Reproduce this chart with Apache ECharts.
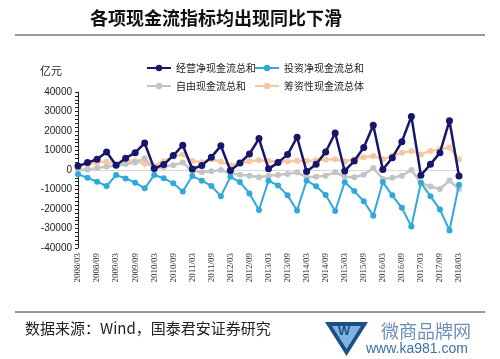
<!DOCTYPE html>
<html><head><meta charset="utf-8">
<script src="https://cdn.jsdelivr.net/npm/echarts@6/dist/echarts.min.js"></script>
<style>html,body{margin:0;padding:0;background:#fff}#c{width:500px;height:359px}</style>
</head><body><div id="c"></div>
<script>
var categories = ["2008/03","2008/06","2008/09","2008/12","2009/03","2009/06","2009/09","2009/12","2010/03","2010/06","2010/09","2010/12","2011/03","2011/06","2011/09","2011/12","2012/03","2012/06","2012/09","2012/12","2013/03","2013/06","2013/09","2013/12","2014/03","2014/06","2014/09","2014/12","2015/03","2015/06","2015/09","2015/12","2016/03","2016/06","2016/09","2016/12","2017/03","2017/06","2017/09","2017/12","2018/03"];
var seriesNames = ["经营净现金流总和","投资净现金流总和","自由现金流总和","筹资性现金流总体"];
var operating = [2000,3800,5500,9200,2400,6000,8900,13800,800,2800,7400,12700,500,2300,6600,12400,-300,3600,8200,16100,600,3800,7900,16800,-800,2900,9200,19000,-500,4600,11500,23000,300,6300,14500,27500,-2700,2900,8900,25300,-3100];
var investing = [-2200,-4000,-6000,-8200,-2600,-4300,-6500,-9400,-2600,-4200,-6800,-11000,-3100,-5500,-8200,-13400,-3500,-6200,-12000,-20500,-5500,-8000,-13000,-20800,-5500,-8300,-12800,-21000,-6300,-10800,-16000,-23500,-6200,-13000,-19400,-29000,-6500,-13400,-20300,-31000,-7500];
var freeCash = [0,200,1000,1800,2200,3100,3900,6000,300,1600,2400,3800,-400,-1200,-700,0,-1700,-2400,-2900,-3700,-2900,-2500,-2000,-1200,-3700,-3400,-2900,-1200,-3400,-3700,-2400,1000,-4600,-4000,-2900,0,-6500,-8500,-9800,-5400,-9800];
var financing = [2200,3000,3800,4300,3000,5000,4600,3200,2200,4500,7000,8000,4600,4000,5500,4200,2500,3500,4500,5000,4600,4300,4300,4800,4600,5000,5300,5500,4500,5500,6500,7200,5500,7200,8900,9800,8000,9800,10700,11500,5500];

var colors = ['#16166b','#2fa9d9','#c4c4c4','#f6c8a2'];
var chart = echarts.init(document.getElementById('c'));
var cjk = '"Noto Sans CJK SC", sans-serif';
function mk(i, data, w, sz) {
  return {name: seriesNames[i], type:'line', data:data, symbol:'circle', symbolSize:sz, showAllSymbol:true,
    lineStyle:{width:w,color:colors[i]}, itemStyle:{color:colors[i]}, z: 10-i};
}
var s = [mk(2,freeCash,2.5,6), mk(3,financing,2.5,6), mk(1,investing,2,6), mk(0,operating,2.5,7)];
s[0].markLine = {silent:true, symbol:'none', label:{show:false}, lineStyle:{color:'#d8d8d8',width:1,type:'solid'}, data:[{yAxis:0}]};
chart.setOption({
  animation:false,
  textStyle:{fontFamily:cjk},
  grid:{left:78,right:41,top:92,bottom:111},
  legend:[
    {data:[seriesNames[0],seriesNames[2]], orient:'vertical', left:141, top:58, itemWidth:24, itemHeight:8, itemGap:8, textStyle:{fontSize:10,color:'#222',fontFamily:cjk}},
    {data:[seriesNames[1],seriesNames[3]], orient:'vertical', left:249, top:58, itemWidth:24, itemHeight:8, itemGap:8, textStyle:{fontSize:10,color:'#222',fontFamily:cjk}}
  ],
  xAxis:{type:'category', data:categories, boundaryGap:false,
    axisLine:{show:false}, axisTick:{show:false},
    axisLabel:{interval:1, rotate:90, fontSize:9, color:'#333', fontFamily:'"Liberation Serif", serif', margin:5}},
  yAxis:{type:'value', min:-40000, max:40000, interval:10000,
    axisLine:{show:true, lineStyle:{color:'#222',width:1}},
    axisTick:{show:true, length:3, lineStyle:{color:'#222'}},
    minorTick:{show:true, splitNumber:5, length:3, lineStyle:{color:'#222'}},
    splitLine:{show:false},
    axisLabel:{fontSize:10, color:'#222', fontFamily:'"Liberation Sans", Arial, sans-serif', margin:6, formatter:function(v){return String(v);}}},
  graphic:[
    {type:'text', left:90, top:9, style:{text:'各项现金流指标均出现同比下滑', font:'bold 18px "Noto Sans CJK SC"', fill:'#111'}},
    {type:'line', shape:{x1:15,y1:35,x2:485,y2:35}, style:{stroke:'#333',lineWidth:1}},
    {type:'text', left:40, top:65, style:{text:'亿元', font:'11px "Noto Sans CJK SC"', fill:'#222'}},
    {type:'line', shape:{x1:15,y1:312,x2:485,y2:312}, style:{stroke:'#333',lineWidth:1}},
    {type:'text', left:25, top:321, style:{text:'数据来源：Wind，国泰君安证券研究', font:'15px "Noto Sans CJK SC"', fill:'#222'}},
    {type:'polygon', shape:{points:[[325,322],[368,322],[346.5,356]]}, style:{fill:'#1d4f86'}},
    {type:'polygon', shape:{points:[[332,326],[361,326],[346.5,349]]}, style:{fill:'#7fb3e0'}},
    {type:'text', left:338, top:325, style:{text:'W', font:'bold 13px "Liberation Sans"', fill:'#1d4f86'}},
    {type:'text', left:381, top:322, style:{text:'微商品牌网', font:'18px "Noto Sans CJK SC"', fill:'#6d8fb5'}},
    {type:'text', left:366, top:342, style:{text:'www.ka981.com', font:'14px "Liberation Sans"', fill:'#3f6fa6'}}
  ],
  series:s
});
</script></body></html>
